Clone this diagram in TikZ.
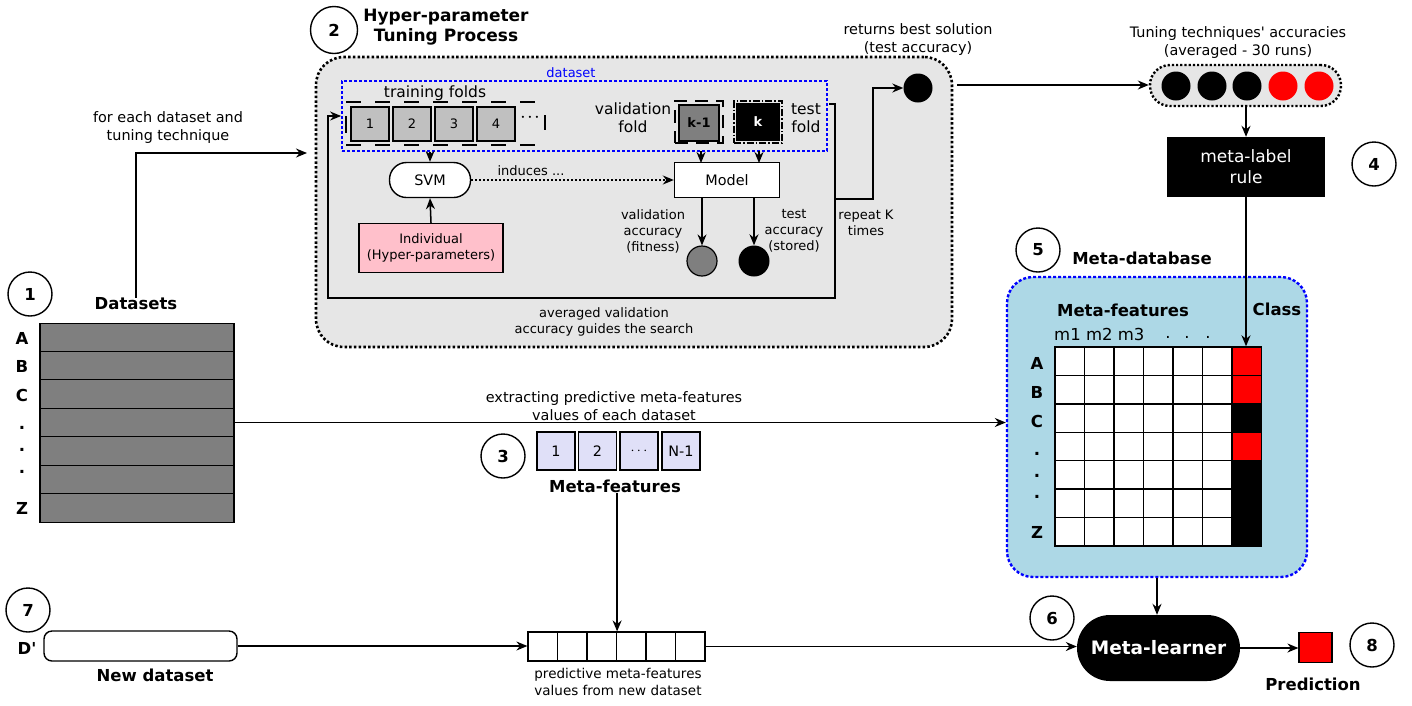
\documentclass[tikz,border=0pt]{standalone}
\usepackage{fontspec}
\setmainfont{DejaVu Sans}
\usetikzlibrary{arrows.meta}
\definecolor{hpgray}{HTML}{E6E6E6}
\definecolor{foldgray}{HTML}{C0C0C0}
\definecolor{dkgray}{HTML}{7F7F7F}
\definecolor{mdbblue}{HTML}{ADD8E6}
\definecolor{pinkbox}{HTML}{FFC0CB}
\definecolor{lav}{HTML}{E0E0F8}
\definecolor{dsblue}{HTML}{0000FF}
\newcommand{\myN}{\fontsize{14.4pt}{18pt}\selectfont}
\newcommand{\myS}{\fontsize{13pt}{16pt}\selectfont}
\newcommand{\myL}{\fontsize{15.5pt}{18pt}\selectfont}
\newcommand{\myM}{\fontsize{16.5pt}{19pt}\selectfont}
\newcommand{\myB}{\fontsize{16.5pt}{19pt}\selectfont\bfseries}
\newcommand{\myH}{\fontsize{17pt}{20pt}\selectfont\bfseries}
\newcommand{\sq}{\XeTeXglyph\XeTeXcharglyph"27\relax}
\begin{document}
\begin{tikzpicture}[x=1pt,y=-1pt,
  lbl/.style={font=\myN, align=center, inner sep=0pt},
  slbl/.style={font=\myS, align=center, inner sep=0pt},
  blbl/.style={font=\myB, align=center, inner sep=0pt},
  num/.style={circle, draw, line width=1.4pt, minimum size=44pt, inner sep=0pt, font=\myB},
  arr/.style={-{Stealth[length=11pt,width=9pt]}, line width=1.5pt},
  ln/.style={line width=1.5pt},
  dsrow/.style={draw, fill=dkgray, line width=1.4pt, minimum width=194pt, minimum height=28.5pt, inner sep=0pt},
  foldbox/.style={draw, fill=foldgray, line width=1.4pt, minimum width=38pt, minimum height=34pt, inner sep=0pt, font=\myS},
  cell/.style={draw, fill=white, line width=1.4pt, minimum width=29.5pt, minimum height=28.43pt, inner sep=0pt},
  vcell/.style={draw, fill=white, line width=1.2pt, minimum width=29.5pt, minimum height=29pt, inner sep=0pt},
  mfbox/.style={draw, fill=lav, line width=1.3pt, minimum width=38pt, minimum height=38pt, inner sep=0pt, font=\myN},
  dotted box/.style={dash pattern=on 2.5pt off 2.2pt, line width=2.6pt}
]
\useasboundingbox (0,0) rectangle (1412,705);

% ---------- numbered circles ----------
\node[num] (n1) at (30,294) {1};
\node[num, minimum size=47pt] (n2) at (334,30) {2};
\node[num] (n3) at (503,456) {3};
\node[num] (n4) at (1374,164) {4};
\node[num] (n5) at (1038,250) {5};
\node[num] (n6) at (1052,618) {6};
\node[num] (n7) at (28,610) {7};
\node[num] (n8) at (1372,645) {8};

% ---------- datasets ----------
\node[blbl] (dslbl) at (136,304) {Datasets};
\foreach \i/\y in {1/337.5,2/366,3/394,4/422.5,5/451,6/479.5,7/508}
  \node[dsrow] (ds\i) at (137,\y) {};
\foreach \t/\y [count=\k] in {A/338,B/366,C/395,./428,./450,./472,Z/508}
  \node[blbl] (dsl\k) at (22,\y) {\t};

% ---------- hyper-parameter box ----------
\node[draw, fill=hpgray, rounded corners=28pt, dotted box, minimum width=636pt, minimum height=290pt, inner sep=0pt] (hp) at (634,202) {};
\node[font=\myH, align=center, inner sep=0pt] (hptitle) at (446,27) {Hyper-parameter\\Tuning Process};

\node[draw=dsblue, dash pattern=on 3pt off 2pt, line width=1.8pt, minimum width=485pt, minimum height=70pt, inner sep=0pt] (dsrect) at (584.5,116) {};
\node[slbl, text=dsblue] (dstext) at (571,73) {dataset};

\node[font=\myL, inner sep=0pt] (trlbl) at (435,93) {training folds};
\foreach \i/\x in {1/370,2/412,3/454,4/496}
  \node[foldbox] (fold\i) at (\x,124) {\i};
\draw[dash pattern=on 15pt off 14pt, line width=1.4pt] (346,102) -- (545,102) (346,145) -- (545,145);
\draw[line width=1.4pt] (346,116) -- (346,133) (545,115) -- (545,130);
\node[font=\fontsize{20pt}{20pt}\selectfont\bfseries, inner sep=0pt] (fdots) at (530,118) {$\cdot\!\cdot\!\cdot$};

\node[font=\myL, align=center, inner sep=0pt] (vflbl) at (633,118) {validation\\fold};
\node[draw, dash pattern=on 13pt off 8pt, line width=1.4pt, minimum width=48pt, minimum height=42pt, inner sep=0pt] (kmo) at (699,122) {};
\node[foldbox, fill=dkgray, minimum width=40pt, minimum height=36pt, font=\myS\bfseries] (kminus) at (699,123) {k-1};
\node[draw, dash pattern=on 7pt off 2pt on 1.5pt off 2pt, line width=1.4pt, minimum width=48pt, minimum height=42pt, inner sep=0pt] (kko) at (758,122) {};
\node[foldbox, fill=black, text=white, minimum width=42pt, minimum height=36pt, font=\myS\bfseries] (kfold) at (758,122) {k};
\node[font=\myL, align=center, inner sep=0pt] (tflbl) at (806,118) {test\\fold};

\node[draw, fill=white, rounded corners=17pt, line width=1.4pt, minimum width=81pt, minimum height=35pt, inner sep=0pt, font=\myN] (svm) at (430,180) {SVM};
\node[draw, fill=pinkbox, line width=1.4pt, minimum width=144pt, minimum height=49pt, inner sep=0pt, align=center, font=\myS] (indiv) at (431,248) {Individual\\(Hyper-parameters)};
\node[draw, fill=white, line width=1.4pt, minimum width=105pt, minimum height=35pt, inner sep=0pt, font=\myN] (model) at (727,180) {Model};

\draw[arr] (svm.south |- dsrect.south) -- (svm.north);
\draw[arr] (indiv.north) -- (svm.south);
\draw[arr, dash pattern=on 2pt off 2pt] (svm.east) -- (model.west);
\node[slbl] (indlbl) at (531,171) {induces ...};
\draw[arr] (701,151) -- (701,163);
\draw[arr] (759,151) -- (759,163);

\node[circle, draw, fill=dkgray, line width=1.2pt, minimum size=30pt, inner sep=0pt] (valc) at (702,261) {};
\node[circle, fill=black, minimum size=31pt, inner sep=0pt] (testc) at (754,261) {};
\draw[arr] (model.south -| valc) -- (valc.north);
\draw[arr] (model.south -| testc) -- (testc.north);
\node[slbl] (vallbl) at (653,231) {validation\\accuracy\\(fitness)};
\node[slbl] (testlbl) at (794,231) {test\\accuracy\\(stored)};

\coordinate (lp) at (829,104);
\draw[arr] (lp) -- (835,104) -- (835,298) -- (328,298) -- (328,116) -- (dsrect.west);
\node[circle, fill=black, minimum size=29pt, inner sep=0pt] (best) at (918,88) {};
\coordinate (rp) at (835,199);
\draw[arr] (rp) -- (873,199) -- (873,88) -- (best.west);
\node[slbl] (replbl) at (866,223) {repeat K\\times};
\node[lbl] (bestlbl) at (918,40) {returns best solution\\(test accuracy)};
\node[slbl] (avglbl) at (604,322) {averaged validation\\accuracy guides the search};

% ---------- input arrow ----------
\node[lbl] (foreach) at (168,128) {for each dataset and\\tuning technique};
\coordinate (hpin) at (307,153);
\draw[arr] (dslbl.north) |- (hpin);

% ---------- accuracies ----------
\node[lbl] (acclbl) at (1238,43) {Tuning techniques\sq{} accuracies\\(averaged - 30 runs)};
\node[draw, fill=hpgray, rounded corners=20pt, dash pattern=on 2.2pt off 2pt, line width=2.4pt, minimum width=191pt, minimum height=41pt, inner sep=0pt] (pill) at (1245.5,85.5) {};
\foreach \i/\x/\c in {1/1176/black,2/1212/black,3/1247/black,4/1283/red,5/1319/red}
  \node[circle, fill=\c, minimum size=29pt, inner sep=0pt] (acc\i) at (\x,86) {};
\coordinate (hpout) at (957,85);
\draw[arr] (hpout) -- (hpout -| pill.west);

\node[fill=black, text=white, minimum width=158pt, minimum height=60pt, inner sep=0pt, align=center, font=\fontsize{17pt}{21pt}\selectfont] (rule) at (1246,167) {meta-label\\rule};
\draw[arr] (pill.south -| rule) -- (rule.north);

% ---------- meta-database ----------
\node[blbl] (mdblbl) at (1142,258) {Meta-database};
\node[draw=dsblue, fill=mdbblue, rounded corners=26pt, dash pattern=on 3pt off 2pt, line width=2.4pt, minimum width=300pt, minimum height=300pt, inner sep=0pt] (mdb) at (1157,427) {};
\node[blbl] (mflbl2) at (1123,310) {Meta-features};
\node[blbl] (classlbl) at (1277,309) {Class};
\node[font=\myM, anchor=west, inner sep=0pt] (mlab) at (1054,334) {m1 m2 m3};
\foreach \x [count=\k] in {1168,1187,1208}
  \node[font=\myM, inner sep=0pt] (mdot\k) at (\x,337) {.};
\foreach \r in {0,...,6}{
  \foreach \c in {0,...,5}{
    \node[cell] (g\r\c) at ({1069.75+29.5*\c},{361.2+28.43*\r}) {};
  }
}
\foreach \r/\col in {0/red,1/red,2/black,3/red,4/black,5/black,6/black}
  \node[cell, fill=\col] (cls\r) at (1247,{361.2+28.43*\r}) {};
\foreach \t/\y [count=\k] in {A/363,B/392,C/421,./454,./476,./497,Z/532}
  \node[blbl] (mdl\k) at (1037,\y) {\t};
\draw[arr] (rule.south) -- (rule.south |- cls0.north);

\node[lbl] (extlbl) at (614,406) {extracting predictive meta-features\\values of each dataset};
\draw[arr] (ds4.east) -- (ds4.east -| mdb.west);

% ---------- meta-features ----------
\foreach \i/\x/\t in {1/556/1,2/597.5/2,3/639/{$\cdots$},4/681/N-1}
  \node[mfbox] (mf\i) at (\x,451) {\t};
\node[blbl] (mflbl) at (615,486) {Meta-features};

% ---------- new dataset ----------
\node[blbl] (dplbl) at (27,648) {D\sq};
\node[draw, fill=white, rounded corners=8pt, line width=1.4pt, minimum width=193pt, minimum height=30pt, inner sep=0pt] (newds) at (140.5,646) {};
\node[blbl] (newlbl) at (155,675) {New dataset};
\foreach \i in {1,...,6}
  \node[vcell] (v\i) at ({513.25+29.5*\i},646.5) {};
\node[slbl, font=\fontsize{13.5pt}{17pt}\selectfont] (vlbl) at (618,682) {predictive meta-features\\values from new dataset};
\draw[arr] (mflbl.south -| v3.north east) -- (v3.north east);
\draw[arr] (newds.east) -- (newds.east -| v1.west);

\node[fill=black, text=white, rounded corners=33pt, minimum width=163pt, minimum height=66pt, inner sep=0pt, font=\fontsize{18.5pt}{22pt}\selectfont\bfseries] (ml) at (1158.5,648) {Meta-learner};
\draw[arr] (v6.east) -- (v6.east -| ml.west);
\draw[arr] (mdb.south) -- (mdb.south |- ml.north);
\node[draw, fill=red, line width=1.2pt, minimum width=33pt, minimum height=30pt, inner sep=0pt] (pred) at (1315.5,647.5) {};
\draw[arr] (ml.east) -- (ml.east -| pred.west);
\node[blbl] (predlbl) at (1313,684) {Prediction};
\end{tikzpicture}
\end{document}
